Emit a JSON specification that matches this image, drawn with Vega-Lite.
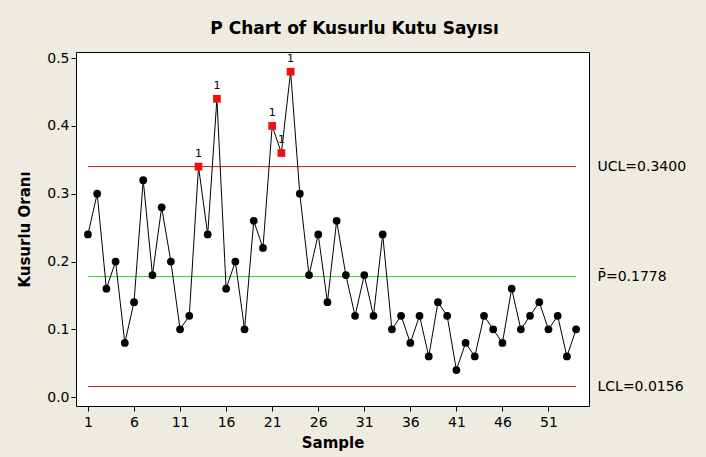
{
  "$schema": "https://vega.github.io/schema/vega-lite/v6.json",
  "autosize": "none",
  "width": 513,
  "height": 354,
  "padding": {"left": 76, "top": 52, "right": 117, "bottom": 51},
  "background": "#EEEBE1",
  "config": {
    "view": {"fill": "white", "stroke": "black", "strokeWidth": 1},
    "font": "DejaVu Sans"
  },
  "title": {
    "text": "P Chart of Kusurlu Kutu Sayısı",
    "font": "DejaVu Sans",
    "fontSize": 17,
    "fontWeight": "bold",
    "color": "black",
    "anchor": "middle",
    "dx": 22,
    "offset": 13
  },
  "datasets": {
    "samples": [
      {"sample": 1, "p": 0.24, "status": "in"},
      {"sample": 2, "p": 0.30, "status": "in"},
      {"sample": 3, "p": 0.16, "status": "in"},
      {"sample": 4, "p": 0.20, "status": "in"},
      {"sample": 5, "p": 0.08, "status": "in"},
      {"sample": 6, "p": 0.14, "status": "in"},
      {"sample": 7, "p": 0.32, "status": "in"},
      {"sample": 8, "p": 0.18, "status": "in"},
      {"sample": 9, "p": 0.28, "status": "in"},
      {"sample": 10, "p": 0.20, "status": "in"},
      {"sample": 11, "p": 0.10, "status": "in"},
      {"sample": 12, "p": 0.12, "status": "in"},
      {"sample": 13, "p": 0.34, "status": "out"},
      {"sample": 14, "p": 0.24, "status": "in"},
      {"sample": 15, "p": 0.44, "status": "out"},
      {"sample": 16, "p": 0.16, "status": "in"},
      {"sample": 17, "p": 0.20, "status": "in"},
      {"sample": 18, "p": 0.10, "status": "in"},
      {"sample": 19, "p": 0.26, "status": "in"},
      {"sample": 20, "p": 0.22, "status": "in"},
      {"sample": 21, "p": 0.40, "status": "out"},
      {"sample": 22, "p": 0.36, "status": "out"},
      {"sample": 23, "p": 0.48, "status": "out"},
      {"sample": 24, "p": 0.30, "status": "in"},
      {"sample": 25, "p": 0.18, "status": "in"},
      {"sample": 26, "p": 0.24, "status": "in"},
      {"sample": 27, "p": 0.14, "status": "in"},
      {"sample": 28, "p": 0.26, "status": "in"},
      {"sample": 29, "p": 0.18, "status": "in"},
      {"sample": 30, "p": 0.12, "status": "in"},
      {"sample": 31, "p": 0.18, "status": "in"},
      {"sample": 32, "p": 0.12, "status": "in"},
      {"sample": 33, "p": 0.24, "status": "in"},
      {"sample": 34, "p": 0.10, "status": "in"},
      {"sample": 35, "p": 0.12, "status": "in"},
      {"sample": 36, "p": 0.08, "status": "in"},
      {"sample": 37, "p": 0.12, "status": "in"},
      {"sample": 38, "p": 0.06, "status": "in"},
      {"sample": 39, "p": 0.14, "status": "in"},
      {"sample": 40, "p": 0.12, "status": "in"},
      {"sample": 41, "p": 0.04, "status": "in"},
      {"sample": 42, "p": 0.08, "status": "in"},
      {"sample": 43, "p": 0.06, "status": "in"},
      {"sample": 44, "p": 0.12, "status": "in"},
      {"sample": 45, "p": 0.10, "status": "in"},
      {"sample": 46, "p": 0.08, "status": "in"},
      {"sample": 47, "p": 0.16, "status": "in"},
      {"sample": 48, "p": 0.10, "status": "in"},
      {"sample": 49, "p": 0.12, "status": "in"},
      {"sample": 50, "p": 0.14, "status": "in"},
      {"sample": 51, "p": 0.10, "status": "in"},
      {"sample": 52, "p": 0.12, "status": "in"},
      {"sample": 53, "p": 0.06, "status": "in"},
      {"sample": 54, "p": 0.10, "status": "in"}
    ],
    "limits": [
      {"name": "UCL", "value": 0.34, "start": 1, "end": 54},
      {"name": "P", "value": 0.1778, "start": 1, "end": 54},
      {"name": "LCL", "value": 0.0156, "start": 1, "end": 54}
    ]
  },
  "resolve": {"axis": {"y": "independent"}},
  "layer": [
    {
      "data": {"name": "limits"},
      "mark": {"type": "rule", "strokeWidth": 1},
      "encoding": {
        "x": {"field": "start", "type": "quantitative", "scale": {"domain": [-0.3, 55.4], "nice": false, "zero": false}},
        "x2": {"field": "end"},
        "y": {
          "field": "value", "type": "quantitative",
          "scale": {"domain": [-0.013, 0.509], "nice": false, "zero": false},
          "axis": {
            "orient": "right",
            "values": [0.34, 0.1778, 0.0156],
            "labelExpr": "datum.value > 0.3 ? 'UCL=0.3400' : (datum.value > 0.1 ? 'P̄=0.1778' : 'LCL=0.0156')",
            "ticks": false,
            "domain": false,
            "grid": false,
            "title": null,
            "labelPadding": 8,
            "labelFontSize": 14,
            "labelColor": "black",
            "labelFont": "DejaVu Sans"
          }
        },
        "color": {
          "field": "name", "type": "nominal",
          "scale": {"domain": ["UCL", "P", "LCL"], "range": ["#B41E1E", "#33CC33", "#B41E1E"]},
          "legend": null
        }
      }
    },
    {
      "data": {"name": "samples"},
      "mark": {"type": "line", "color": "black", "strokeWidth": 1},
      "encoding": {
        "x": {
          "field": "sample", "type": "quantitative",
          "axis": {
            "values": [1, 6, 11, 16, 21, 26, 31, 36, 41, 46, 51],
            "title": "Sample",
            "titleFontSize": 15,
            "titleFontWeight": "bold",
            "titleColor": "black",
            "titlePadding": 6,
            "labelFontSize": 14,
            "labelColor": "black",
            "labelPadding": 4,
            "tickColor": "black",
            "tickSize": 5,
            "domain": false,
            "grid": false,
            "labelFlush": false
          }
        },
        "y": {
          "field": "p", "type": "quantitative",
          "axis": {
            "values": [0, 0.1, 0.2, 0.3, 0.4, 0.5],
            "format": ".1f",
            "title": "Kusurlu Oranı",
            "titleFontSize": 15,
            "titleFontWeight": "bold",
            "titleColor": "black",
            "titlePadding": 14,
            "labelFontSize": 14,
            "labelColor": "black",
            "tickColor": "black",
            "tickSize": 5,
            "domain": false,
            "grid": false
          }
        }
      }
    },
    {
      "data": {"name": "samples"},
      "transform": [{"filter": "datum.status == 'in'"}],
      "mark": {"type": "point", "shape": "circle", "filled": true, "color": "black", "size": 60, "opacity": 1},
      "encoding": {
        "x": {"field": "sample", "type": "quantitative"},
        "y": {"field": "p", "type": "quantitative", "axis": null}
      }
    },
    {
      "data": {"name": "samples"},
      "transform": [{"filter": "datum.status == 'out'"}],
      "mark": {"type": "point", "shape": "square", "filled": true, "color": "#EE1111", "size": 60, "opacity": 1},
      "encoding": {
        "x": {"field": "sample", "type": "quantitative"},
        "y": {"field": "p", "type": "quantitative", "axis": null}
      }
    },
    {
      "data": {"name": "samples"},
      "transform": [{"filter": "datum.status == 'out'"}, {"calculate": "'1'", "as": "flag"}],
      "mark": {"type": "text", "fontSize": 11, "dy": -13, "color": "black", "font": "DejaVu Sans"},
      "encoding": {
        "x": {"field": "sample", "type": "quantitative"},
        "y": {"field": "p", "type": "quantitative", "axis": null},
        "text": {"field": "flag"}
      }
    }
  ]
}
